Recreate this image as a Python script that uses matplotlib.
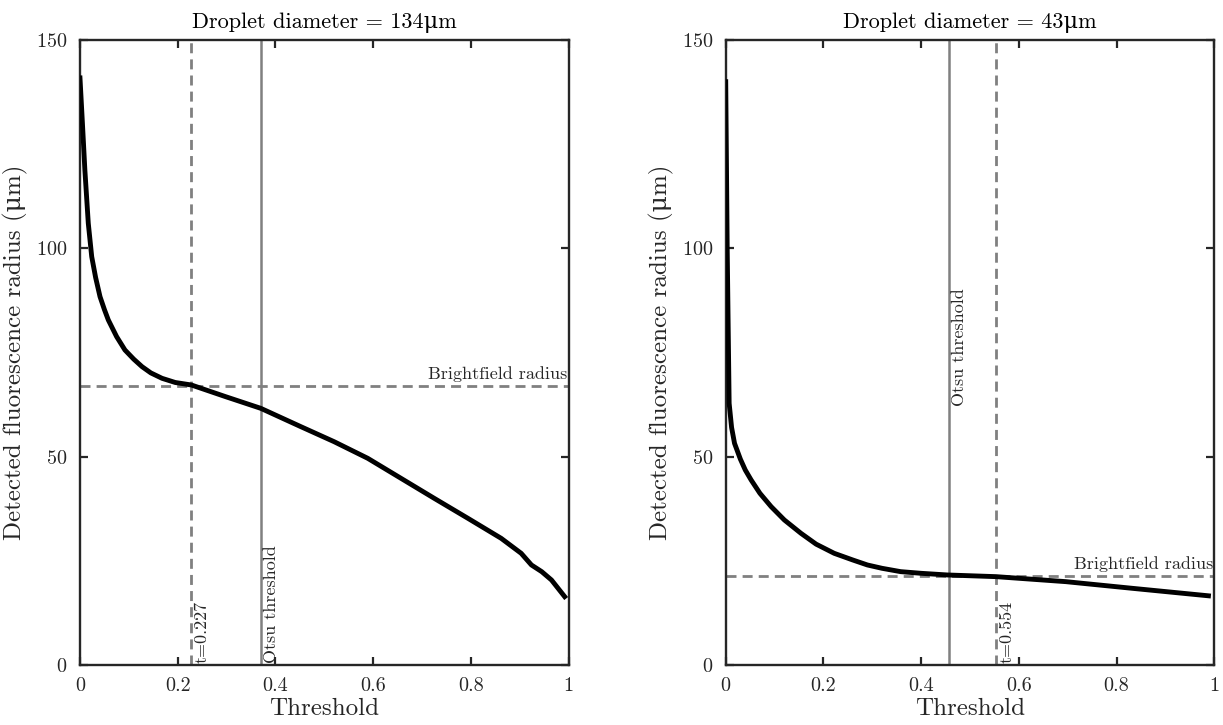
import matplotlib
matplotlib.use("Agg")
import matplotlib.pyplot as plt

plt.rcParams['font.family'] = ['cmr10', 'DejaVu Serif']
plt.rcParams['mathtext.fontset'] = 'cm'
plt.rcParams['axes.unicode_minus'] = False
plt.rcParams['axes.formatter.use_mathtext'] = True

# left panel: droplet 134 um
thr_a = [0.0, 0.005, 0.010, 0.017, 0.024, 0.032, 0.041, 0.050, 0.058, 0.075,
         0.092, 0.110, 0.127, 0.145, 0.168, 0.195, 0.228, 0.298, 0.370,
         0.452, 0.520, 0.589, 0.657, 0.725, 0.794, 0.862, 0.903, 0.924,
         0.945, 0.965, 0.992]
rad_a = [140.9, 130.0, 118.8, 106.0, 98.0, 93.0, 88.4, 85.3, 82.8, 78.8,
         75.6, 73.4, 71.6, 70.1, 68.8, 67.8, 67.2, 64.4, 61.6,
         57.2, 53.6, 49.6, 44.8, 40.0, 35.2, 30.4, 26.8, 24.0,
         22.4, 20.4, 16.4]
bright_a = 67.0
otsu_a = 0.370
t_a = 0.227

# right panel: droplet 43 um
thr_b = [0.0, 0.003, 0.007, 0.012, 0.018, 0.030, 0.040, 0.052, 0.070, 0.093,
         0.120, 0.154, 0.185, 0.222, 0.260, 0.290, 0.320, 0.358, 0.400,
         0.454, 0.553, 0.696, 0.832, 0.988]
rad_b = [140.0, 100.0, 62.8, 57.0, 53.2, 49.4, 46.8, 44.4, 41.2, 38.0,
         34.8, 31.6, 29.0, 26.8, 25.2, 24.0, 23.2, 22.4, 22.0,
         21.6, 21.2, 20.0, 18.4, 16.6]
bright_b = 21.4
otsu_b = 0.456
t_b = 0.554

mu = '\u03bc'
panels = [
    ('Droplet diameter = 134' + mu + 'm', thr_a, rad_a, bright_a, otsu_a, t_a, 0.0),
    ('Droplet diameter = 43' + mu + 'm', thr_b, rad_b, bright_b, otsu_b, t_b, 61.6),
]

fig = plt.figure(figsize=(12.23, 7.25), dpi=100)
lefts = [0.0654, 0.5934]
dark = '#262626'
grey = '#808080'

for left, (title, x, y, bf, otsu, t, otsu_y) in zip(lefts, panels):
    ax = fig.add_axes([left, 0.0828, 0.3995, 0.862])
    ax.plot(x, y, color='black', lw=3.5, zorder=3, solid_joinstyle='round')
    ax.axhline(bf, color=grey, lw=2.0, dashes=(3.6, 2.2), zorder=2)
    ax.axvline(t, color=grey, lw=2.0, dashes=(3.6, 2.2), zorder=2)
    ax.axvline(otsu, color=grey, lw=1.8, zorder=2)

    ax.text(0.997, bf + 1.0, 'Brightfield radius', ha='right', va='bottom',
            fontsize=13, color=dark, transform=ax.get_yaxis_transform())
    ax.text(t + 0.006, 0.5, 't=%.3f' % t, rotation=90, ha='left', va='bottom',
            fontsize=13, color=dark)
    ax.text(otsu + 0.006, otsu_y + 0.5, 'Otsu threshold', rotation=90,
            ha='left', va='bottom', fontsize=13, color=dark)

    ax.set_xlim(0, 1)
    ax.set_ylim(0, 150)
    ax.set_xticks([0, 0.2, 0.4, 0.6, 0.8, 1])
    ax.set_xticklabels(['0', '0.2', '0.4', '0.6', '0.8', '1'])
    ax.set_yticks([0, 50, 100, 150])
    ax.tick_params(direction='in', length=6, width=1.6, top=True, right=True,
                   labelsize=14.5, colors=dark, pad=9)
    for s in ax.spines.values():
        s.set_linewidth(1.7)
        s.set_color(dark)
    ax.set_title(title, fontsize=16, color='black', pad=9)
    ax.set_xlabel('Threshold', fontsize=18, color=dark, labelpad=2)
    ax.set_ylabel('Detected fluorescence radius (' + mu + 'm)', fontsize=18,
                  color=dark, labelpad=6)

fig.savefig('out.png', dpi=100)
